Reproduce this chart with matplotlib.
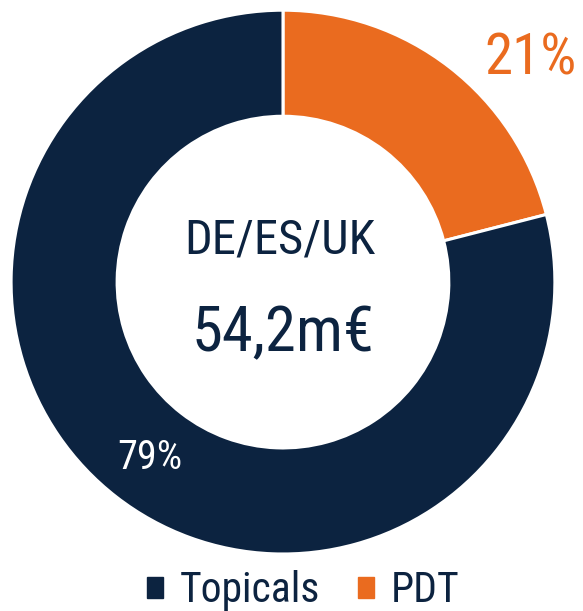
import matplotlib
matplotlib.use("Agg")
import matplotlib.pyplot as plt
import matplotlib.patches as mpatches
from matplotlib import font_manager

# data
labels = ["PDT", "Topicals"]
shares = [21, 79]
colors = ["#ea6b1f", "#0c2340"]
center_title = "DE/ES/UK"
center_value = "54,2m€"

# pick a narrow font if there is one
names = set(f.name for f in font_manager.fontManager.ttflist)
fam = "DejaVu Sans"
for cand in ["Liberation Sans Narrow", "DejaVu Sans Condensed", "Roboto Condensed"]:
    if cand in names:
        fam = cand
        break
plt.rcParams["font.family"] = [fam, "DejaVu Sans"]

fig = plt.figure(figsize=(5.83, 6.11), dpi=100)
ax = fig.add_axes([0.0189, 0.0933, 0.933, 0.890])

wedges, _ = ax.pie(shares, colors=colors, startangle=90, counterclock=False,
                   radius=1.0, wedgeprops=dict(width=0.39, edgecolor="white", linewidth=2.2))
ax.set_xlim(-1, 1)
ax.set_ylim(-1, 1)
ax.set_aspect("equal")
ax.axis("off")

ax.text(0.91, 0.82, str(shares[0]) + "%", color=colors[0], fontsize=41,
        ha="center", va="center")
ax.text(-0.49, -0.645, str(shares[1]) + "%", color="white", fontsize=29,
        ha="center", va="center")
ax.text(-0.01, 0.152, center_title, color=colors[1], fontsize=35,
        ha="center", va="center")
ax.text(0.0, -0.19, center_value, color=colors[1], fontsize=45,
        ha="center", va="center")

handles = [mpatches.Patch(color=colors[1], label=labels[1]),
           mpatches.Patch(color=colors[0], label=labels[0])]
fig.legend(handles=handles, loc="lower center", bbox_to_anchor=(0.52, -0.062), ncol=2,
           frameon=False, fontsize=30, labelcolor=colors[1], handlelength=0.38,
           handleheight=0.38, handletextpad=0.4, columnspacing=0.9)

fig.savefig("out.png", dpi=100)
